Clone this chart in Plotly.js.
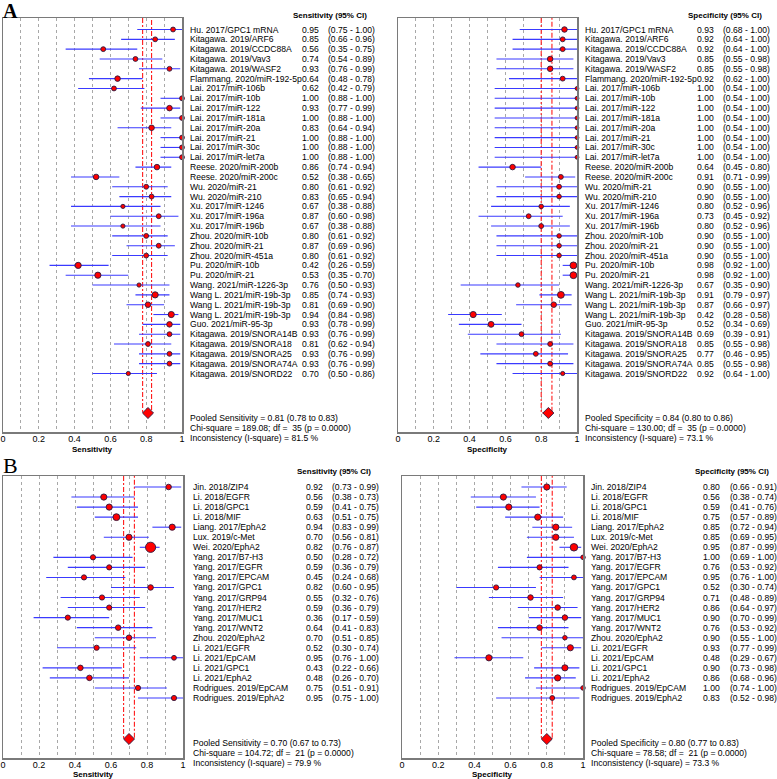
<!DOCTYPE html>
<html><head><meta charset="utf-8">
<script src="https://cdn.plot.ly/plotly-3.0.1.min.js"></script>
<style>html,body{margin:0;padding:0;background:#fff}</style>
</head><body><div id="chart" style="width:777px;height:779px"></div>
<script>
// ---------- DATA ----------
const studiesA = ["Hu. 2017/GPC1 mRNA","Kitagawa. 2019/ARF6","Kitagawa. 2019/CCDC88A","Kitagawa. 2019/Vav3","Kitagawa. 2019/WASF2","Flammang. 2020/miR-192-5p","Lai. 2017/miR-106b","Lai. 2017/miR-10b","Lai. 2017/miR-122","Lai. 2017/miR-181a","Lai. 2017/miR-20a","Lai. 2017/miR-21","Lai. 2017/miR-30c","Lai. 2017/miR-let7a","Reese. 2020/miR-200b","Reese. 2020/miR-200c","Wu. 2020/miR-21","Wu. 2020/miR-210","Xu. 2017/miR-1246","Xu. 2017/miR-196a","Xu. 2017/miR-196b","Zhou. 2020/miR-10b","Zhou. 2020/miR-21","Zhou. 2020/miR-451a","Pu. 2020/miR-10b","Pu. 2020/miR-21","Wang. 2021/miR-1226-3p","Wang L. 2021/miR-19b-3p","Wang L. 2021/miR-19b-3p","Wang L. 2021/miR-19b-3p","Guo. 2021/miR-95-3p","Kitagawa. 2019/SNORA14B","Kitagawa. 2019/SNORA18","Kitagawa. 2019/SNORA25","Kitagawa. 2019/SNORA74A","Kitagawa. 2019/SNORD22"];
const sensA   = [0.95,0.85,0.56,0.74,0.93,0.64,0.62,1.00,0.93,1.00,0.83,1.00,1.00,1.00,0.86,0.52,0.80,0.83,0.67,0.87,0.67,0.80,0.87,0.80,0.42,0.53,0.76,0.85,0.81,0.94,0.93,0.93,0.81,0.93,0.93,0.70];
const sensLoA = [0.75,0.66,0.35,0.54,0.76,0.48,0.42,0.88,0.77,0.88,0.64,0.88,0.88,0.88,0.74,0.38,0.61,0.65,0.38,0.60,0.38,0.61,0.69,0.61,0.26,0.35,0.50,0.74,0.69,0.84,0.78,0.76,0.62,0.76,0.76,0.50];
const sensHiA = [1.00,0.96,0.75,0.89,0.99,0.78,0.79,1.00,0.99,1.00,0.94,1.00,1.00,1.00,0.94,0.65,0.92,0.94,0.88,0.98,0.88,0.92,0.96,0.92,0.59,0.70,0.93,0.93,0.90,0.98,0.99,0.99,0.94,0.99,0.99,0.86];
const sensWtA = [14,14,14,14,14,16,14,14,16,14,16,14,14,14,16,16,14,14,12,14,12,14,14,14,18,18,12,18,16,18,16,14,14,14,14,12];
const specA   = [0.93,0.92,0.92,0.85,0.85,0.92,1.00,1.00,1.00,1.00,1.00,1.00,1.00,1.00,0.64,0.91,0.90,0.90,0.80,0.73,0.80,0.90,0.90,0.90,0.98,0.98,0.67,0.91,0.87,0.42,0.52,0.69,0.85,0.77,0.85,0.92];
const specLoA = [0.68,0.64,0.64,0.55,0.55,0.62,0.54,0.54,0.54,0.54,0.54,0.54,0.54,0.54,0.45,0.71,0.55,0.55,0.52,0.45,0.52,0.55,0.55,0.55,0.92,0.92,0.35,0.79,0.66,0.28,0.34,0.39,0.55,0.46,0.55,0.64];
const specHiA = [1.00,1.00,1.00,0.98,0.98,1.00,1.00,1.00,1.00,1.00,1.00,1.00,1.00,1.00,0.80,0.99,1.00,1.00,0.96,0.92,0.96,1.00,1.00,1.00,1.00,1.00,0.90,0.97,0.97,0.58,0.69,0.91,0.98,0.95,0.98,1.00];
const specWtA = [16,14,14,16,16,14,11,11,11,11,11,11,11,11,16,14,14,13,13,14,14,13,13,13,20,20,13,20,16,18,17,14,14,14,14,12];

const studiesB = ["Jin. 2018/ZIP4","Li. 2018/EGFR","Li. 2018/GPC1","Li. 2018/MIF","Liang. 2017/EphA2","Lux. 2019/c-Met","Wei. 2020/EphA2","Yang. 2017/B7-H3","Yang. 2017/EGFR","Yang. 2017/EPCAM","Yang. 2017/GPC1","Yang. 2017/GRP94","Yang. 2017/HER2","Yang. 2017/MUC1","Yang. 2017/WNT2","Zhou. 2020/EphA2","Li. 2021/EGFR","Li. 2021/EpCAM","Li. 2021/GPC1","Li. 2021/EphA2","Rodrigues. 2019/EpCAM","Rodrigues. 2019/EphA2"];
const sensB   = [0.92,0.56,0.59,0.63,0.94,0.70,0.82,0.50,0.59,0.45,0.82,0.55,0.59,0.36,0.64,0.70,0.52,0.95,0.43,0.48,0.75,0.95];
const sensLoB = [0.73,0.38,0.41,0.51,0.83,0.56,0.76,0.28,0.36,0.24,0.60,0.32,0.36,0.17,0.41,0.51,0.30,0.76,0.22,0.26,0.51,0.75];
const sensHiB = [0.99,0.73,0.75,0.75,0.99,0.81,0.87,0.72,0.79,0.68,0.95,0.76,0.79,0.59,0.83,0.85,0.74,1.00,0.66,0.70,0.91,1.00];
const sensWtB = [16,18,18,20,18,18,30,15,15,15,16,15,15,15,16,16,15,14,16,16,15,15];
const specB   = [0.80,0.56,0.59,0.75,0.85,0.85,0.95,1.00,0.76,0.95,0.52,0.71,0.86,0.90,0.76,0.90,0.93,0.48,0.90,0.86,1.00,0.83];
const specLoB = [0.66,0.38,0.41,0.57,0.72,0.69,0.87,0.69,0.53,0.76,0.30,0.48,0.64,0.70,0.53,0.55,0.77,0.29,0.73,0.68,0.74,0.52];
const specHiB = [0.91,0.74,0.76,0.89,0.94,0.95,0.99,1.00,0.92,1.00,0.74,0.89,0.97,0.99,0.92,1.00,0.99,0.67,0.98,0.96,1.00,0.98];
const specWtB = [18,18,18,18,18,18,22,13,15,14,15,16,16,16,16,13,18,18,18,18,13,14];

// pooled: [estimate, lo, hi, chi-square, df, I-square]
const pooledSensA = [0.81,0.78,0.83,189.08,35,81.5];
const pooledSpecA = [0.84,0.80,0.86,130.00,35,73.1];
const pooledSensB = [0.70,0.67,0.73,104.72,21,79.9];
const pooledSpecB = [0.80,0.77,0.83,78.58,21,73.3];

const panelLabels = ["A","B"];
const measureNames = ["Sensitivity","Specificity"];

// ---------- BUILD ----------
const W=777,H=779;
const px = x => x/W, py = y => 1 - y/H;
const FONT = "Liberation Sans, Arial, sans-serif";
const FS = 8.6;

const panels = [
  {names:studiesA, est:sensA, lo:sensLoA, hi:sensHiA, wt:sensWtA, pooled:pooledSensA, measure:measureNames[0],
   x0:3, x1:182, top:18, bottom:432, r1:29.5, rN:373.5, dPx:413, titleY:449,
   nameX:190, valX:302, ciX:328, hdrX:293, hdrY:15, statX:190, statY:[418.3,428.3,437.7]},
  {names:studiesA, est:specA, lo:specLoA, hi:specHiA, wt:specWtA, pooled:pooledSpecA, measure:measureNames[1],
   x0:398, x1:577, top:18, bottom:432, r1:29.5, rN:373.5, dPx:413, titleY:449,
   nameX:585, valX:696.7, ciX:723.3, hdrX:688.3, hdrY:15, statX:585, statY:[418.3,428.3,437.7]},
  {names:studiesB, est:sensB, lo:sensLoB, hi:sensHiB, wt:sensWtB, pooled:pooledSensB, measure:measureNames[0],
   x0:3, x1:183, top:476, bottom:758, r1:487, rN:698, dPx:739, titleY:774,
   nameX:192.7, valX:306, ciX:331.7, hdrX:296.7, hdrY:471.7, statX:192.7, statY:[743.3,753.3,763.3]},
  {names:studiesB, est:specB, lo:specLoB, hi:specHiB, wt:specWtB, pooled:pooledSpecB, measure:measureNames[1],
   x0:402, x1:583, top:476, bottom:758, r1:487, rN:698, dPx:739, titleY:774,
   nameX:591, valX:703.3, ciX:730, hdrX:695, hdrY:471.7, statX:591, statY:[743.3,753.3,763.3]}
];

const traces = [], annotations = [];
const layout = {
  width:W, height:H, margin:{l:0,r:0,t:0,b:0}, showlegend:false,
  paper_bgcolor:"#fff", plot_bgcolor:"#fff",
  font:{family:FONT, size:FS, color:"#000"}
};

function ann(text, x, y, opts) {
  return Object.assign({text:text, x:x, y:y, xref:"paper", yref:"paper", xanchor:"left", yanchor:"middle",
    showarrow:false, borderpad:0, borderwidth:0, font:{family:FONT,size:FS,color:"#000"}}, opts||{});
}

panels.forEach((p, i) => {
  const n = p.names.length;
  const s = (p.rN - p.r1)/(n-1);
  const yTop = 1 + (p.top - p.r1)/s;
  const yBot = 1 + (p.bottom - p.r1)/s;
  const yD = 1 + (p.dPx - p.r1)/s;
  const suf = i===0 ? "" : String(i+1);
  const xa = "x"+suf, ya = "y"+suf;
  const rows = p.names.map((_,k)=>k+1);

  layout["xaxis"+suf] = {
    domain:[px(p.x0), px(p.x1)], range:[0,1], anchor:ya,
    showline:true, mirror:true, linecolor:"#7a7a7a", linewidth:1.5,
    zeroline:false, ticks:"", tickmode:"linear", tick0:0, dtick:0.2,
    tickfont:{family:FONT,size:9,color:"#000"}, ticklabelstandoff:-2,
    showgrid:true, griddash:"dot", gridcolor:"#a8a8a8", gridwidth:1,
    minor:{dtick:0.1, tick0:0, showgrid:true, griddash:"dot", gridcolor:"#a8a8a8", gridwidth:1},
    fixedrange:true
  };
  layout["yaxis"+suf] = {
    domain:[py(p.bottom), py(p.top)], range:[yBot, yTop], anchor:xa,
    showline:true, mirror:true, linecolor:"#7a7a7a", linewidth:1.5,
    zeroline:false, showgrid:false, showticklabels:false, ticks:"", fixedrange:true
  };

  // pooled CI bracket lines
  traces.push({type:"scatter", mode:"lines", xaxis:xa, yaxis:ya,
    x:[p.pooled[1], p.pooled[1], p.pooled[2], p.pooled[2]], y:[yTop, yD, yD, yTop],
    line:{color:"#ff1a1a", width:1.1, dash:"5px,2px,2px,2px"}, hoverinfo:"skip"});

  // studies
  traces.push({type:"scatter", mode:"markers", xaxis:xa, yaxis:ya, cliponaxis:false,
    x:p.est, y:rows,
    error_x:{type:"data", symmetric:false,
      array:p.est.map((v,k)=>p.hi[k]-v), arrayminus:p.est.map((v,k)=>v-p.lo[k]),
      color:"#3a3aff", thickness:1.1, width:0},
    marker:{color:"#ff0000", opacity:1, size:p.wt.map(w=>w/3+0.2), line:{color:"#2a1a40", width:0.9}}});

  // pooled diamond
  traces.push({type:"scatter", mode:"markers", xaxis:xa, yaxis:ya, cliponaxis:false,
    x:[p.pooled[0]], y:[yD],
    marker:{symbol:"diamond", color:"#ff0000", opacity:1, size:8.5, line:{color:"#2a1a40", width:0.9}}});

  // row texts
  p.names.forEach((nm,k) => {
    const yr = {yref:ya};
    annotations.push(ann(nm, px(p.nameX), k+1, yr));
    annotations.push(ann(p.est[k].toFixed(2), px(p.valX), k+1, yr));
    annotations.push(ann("("+p.lo[k].toFixed(2)+" - "+p.hi[k].toFixed(2)+")", px(p.ciX), k+1, yr));
  });
  annotations.push(ann("<b>"+p.measure+" (95% CI)</b>", px(p.hdrX), py(p.hdrY), {font:{family:FONT,size:8,color:"#000"}}));
  // axis title
  annotations.push(ann("<b>"+p.measure+"</b>", px((p.x0+p.x1)/2), py(p.titleY), {xanchor:"center", font:{family:FONT,size:8,color:"#000"}}));

  const pl = p.pooled;
  const stats = [
    "Pooled "+p.measure+" = "+pl[0].toFixed(2)+" ("+pl[1].toFixed(2)+" to "+pl[2].toFixed(2)+")",
    "Chi-square = "+pl[3].toFixed(2)+"; df = \u00a0"+pl[4]+" (p = 0.0000)",
    "Inconsistency (I-square) = "+pl[5].toFixed(1)+" %"
  ];
  stats.forEach((t,k)=>annotations.push(ann(t, px(p.statX), py(p.statY[k]))));
});

annotations.push(ann("<b>"+panelLabels[0]+"</b>", px(3), py(11), {font:{family:"Liberation Serif, Times New Roman, serif", size:20, color:"#000"}}));
annotations.push(ann(panelLabels[1], px(3), py(466), {font:{family:"Liberation Serif, Times New Roman, serif", size:22, color:"#000"}}));

layout.annotations = annotations;

Plotly.newPlot("chart", traces, layout, {staticPlot:true, displayModeBar:false});
</script>
</body></html>
